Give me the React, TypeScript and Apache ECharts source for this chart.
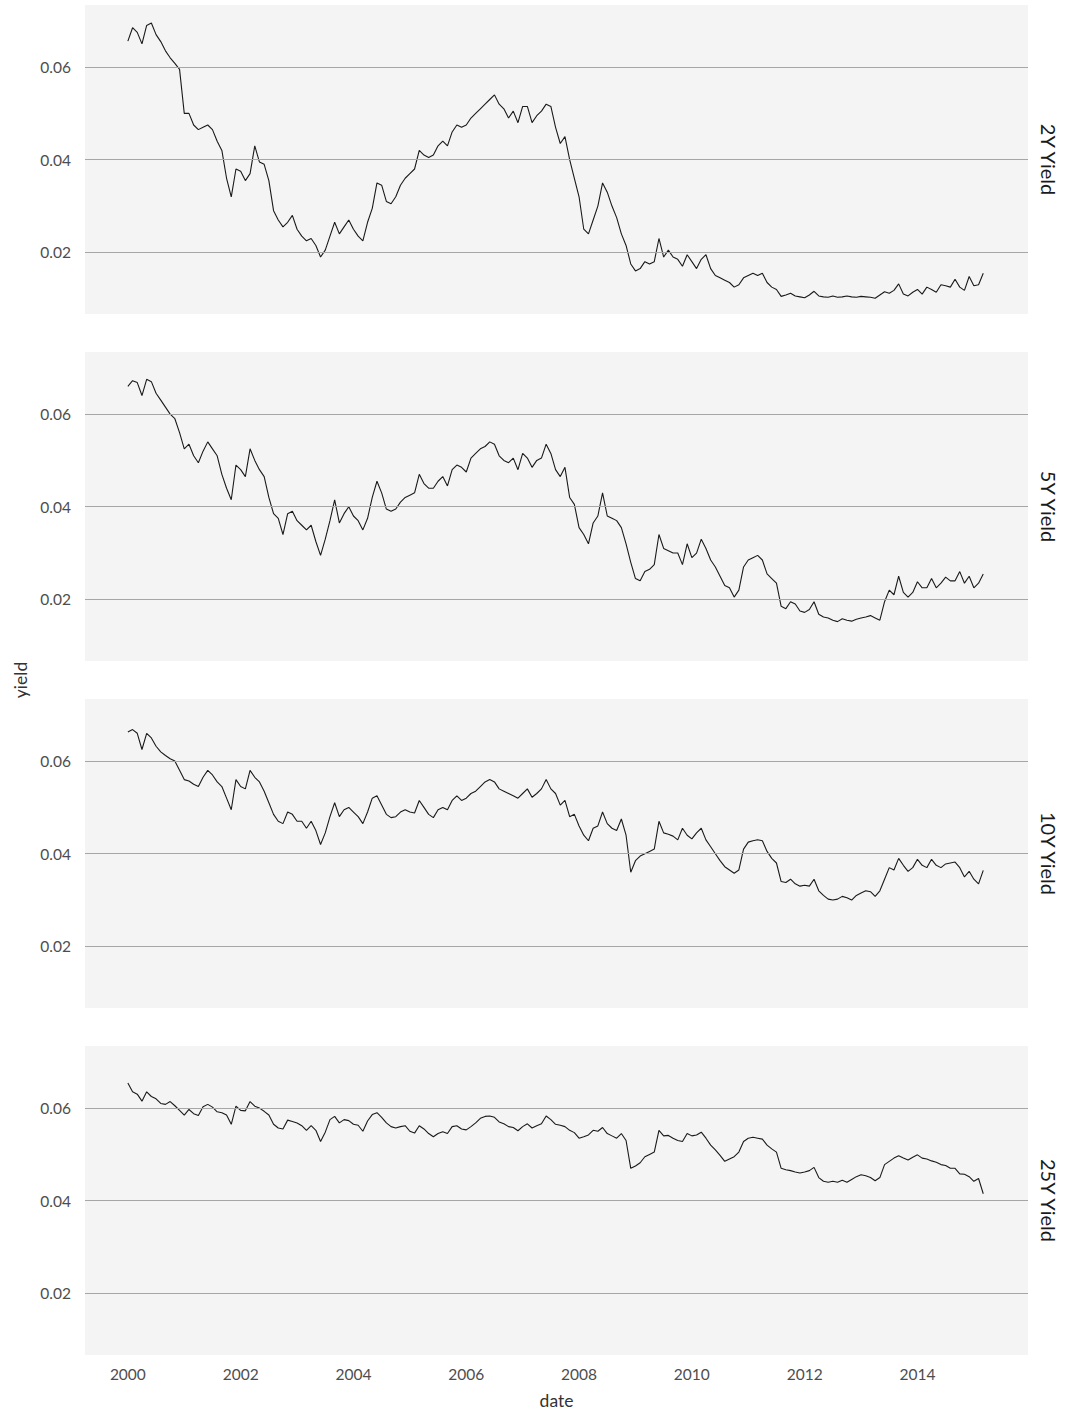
import React, { useEffect, useRef } from "react";
import * as echarts from "echarts";

const startYear = 2000;
const panelLabels = ["2Y Yield", "5Y Yield", "10Y Yield", "25Y Yield"];
const yTicks = [0.02, 0.04, 0.06];
const xTicks = [2000, 2002, 2004, 2006, 2008, 2010, 2012, 2014];

// monthly values, Jan 2000 .. Mar 2015
const y2 = [
  0.0656, 0.0685, 0.0675, 0.065, 0.069, 0.0695, 0.067, 0.0655, 0.0635, 0.062, 0.0608, 0.0595,
  0.05, 0.05, 0.0475, 0.0465, 0.047, 0.0475, 0.0465, 0.044, 0.042, 0.036, 0.032, 0.038,
  0.0375, 0.0355, 0.037, 0.043, 0.0395, 0.039, 0.0355, 0.029, 0.027, 0.0255, 0.0265, 0.028,
  0.025, 0.0235, 0.0225, 0.023, 0.0215, 0.019, 0.0205, 0.0235, 0.0265, 0.024, 0.0255, 0.027,
  0.025, 0.0235, 0.0225, 0.0265, 0.0295, 0.035, 0.0345, 0.031, 0.0305, 0.032, 0.0345, 0.036,
  0.037, 0.038, 0.042, 0.041, 0.0405, 0.041, 0.043, 0.044, 0.043, 0.046, 0.0475, 0.047,
  0.0475, 0.049, 0.05, 0.051, 0.052, 0.053, 0.054, 0.052, 0.051, 0.049, 0.0505, 0.048,
  0.0515, 0.0515, 0.048, 0.0495, 0.0505, 0.052, 0.0515, 0.047, 0.0435, 0.045, 0.04, 0.036,
  0.032, 0.025, 0.024, 0.027, 0.03, 0.035, 0.033, 0.03, 0.0275, 0.024, 0.0215, 0.0175,
  0.016, 0.0165, 0.018, 0.0175, 0.018, 0.023, 0.019, 0.0205, 0.019, 0.0185, 0.017, 0.0195,
  0.018, 0.0165, 0.0185, 0.0195, 0.0165, 0.015, 0.0145, 0.014, 0.0135, 0.0125, 0.013, 0.0145,
  0.015, 0.0155, 0.015, 0.0155, 0.0135, 0.0125, 0.012, 0.0105, 0.0108, 0.0112, 0.0106, 0.0104,
  0.0102, 0.0108, 0.0116, 0.0106, 0.0104, 0.0103, 0.0106, 0.0103, 0.0104, 0.0106, 0.0104, 0.0103,
  0.0105, 0.0104, 0.0103, 0.0101, 0.0108, 0.0115, 0.0112, 0.0118, 0.0132, 0.011, 0.0106, 0.0114,
  0.012, 0.011, 0.0125, 0.012, 0.0114, 0.013, 0.0128, 0.0125, 0.0142, 0.0125, 0.0118, 0.0148,
  0.0128, 0.013, 0.0155,
];

const y5 = [
  0.066, 0.0672, 0.0668, 0.064, 0.0675, 0.067, 0.0645, 0.063, 0.0615, 0.06, 0.059, 0.056,
  0.0525, 0.0535, 0.051, 0.0495, 0.052, 0.054, 0.0525, 0.051, 0.047, 0.044, 0.0415, 0.049,
  0.048, 0.0465, 0.0525, 0.05, 0.048, 0.0465, 0.042, 0.0385, 0.0375, 0.034, 0.0385, 0.039,
  0.037, 0.036, 0.035, 0.036, 0.0325, 0.0295, 0.033, 0.037, 0.0415, 0.0365, 0.0385, 0.04,
  0.038, 0.037, 0.035, 0.0375, 0.042, 0.0455, 0.043, 0.0395, 0.039, 0.0395, 0.041, 0.042,
  0.0425, 0.043, 0.047, 0.045, 0.044, 0.044, 0.0455, 0.0465, 0.0445, 0.048, 0.049, 0.0485,
  0.0475, 0.0505, 0.0515, 0.0525, 0.053, 0.054, 0.0535, 0.051, 0.05, 0.0495, 0.0505, 0.048,
  0.0515, 0.0505, 0.0485, 0.05, 0.0505, 0.0535, 0.0515, 0.048, 0.0465, 0.0485, 0.042, 0.0405,
  0.0355, 0.034, 0.032, 0.0365, 0.038, 0.043, 0.038, 0.0375, 0.037, 0.0355, 0.032, 0.028,
  0.0245, 0.024, 0.026, 0.0265, 0.0275, 0.034, 0.031, 0.0305, 0.03, 0.03, 0.0275, 0.032,
  0.029, 0.03, 0.033, 0.031, 0.0285, 0.027, 0.025, 0.023, 0.0225, 0.0205, 0.022, 0.027,
  0.0285, 0.029, 0.0295, 0.0285, 0.0255, 0.0245, 0.0235, 0.0185, 0.018, 0.0195, 0.019, 0.0175,
  0.0172, 0.0178, 0.0195, 0.0168, 0.0162, 0.016, 0.0155, 0.0152, 0.0158, 0.0155, 0.0153, 0.0157,
  0.016, 0.0162, 0.0165, 0.016, 0.0155, 0.0195, 0.022, 0.021, 0.025, 0.0215, 0.0205, 0.0215,
  0.0238, 0.0225, 0.0225, 0.0245, 0.0225, 0.0235, 0.0248, 0.024, 0.024, 0.026, 0.0235, 0.025,
  0.0225, 0.0235, 0.0255,
];

const y10 = [
  0.0663, 0.0668, 0.066, 0.0625, 0.066, 0.065, 0.0632, 0.062, 0.0612, 0.0605, 0.06, 0.058,
  0.056, 0.0557, 0.055, 0.0545, 0.0565, 0.058, 0.057, 0.0555, 0.0545, 0.052, 0.0495, 0.056,
  0.0545, 0.054, 0.058, 0.0565, 0.0555, 0.0535, 0.051, 0.0485, 0.047, 0.0465, 0.049, 0.0485,
  0.047, 0.047, 0.0455, 0.047, 0.045, 0.042, 0.0445, 0.048, 0.051, 0.048, 0.0495, 0.05,
  0.049, 0.048, 0.0465, 0.049, 0.052, 0.0525, 0.0505, 0.0485, 0.0478, 0.048, 0.049, 0.0495,
  0.049, 0.0488, 0.0515, 0.05, 0.0485, 0.0478, 0.0495, 0.05, 0.0495, 0.0515, 0.0525, 0.0515,
  0.052, 0.053, 0.0535, 0.0545, 0.0555, 0.056, 0.0555, 0.054, 0.0535, 0.053, 0.0525, 0.052,
  0.053, 0.054, 0.0522, 0.053, 0.054, 0.056, 0.054, 0.053, 0.0505, 0.0515, 0.048, 0.0485,
  0.046, 0.044, 0.0428, 0.0455, 0.046, 0.049, 0.0465, 0.0455, 0.045, 0.0475, 0.044, 0.036,
  0.0385, 0.0395, 0.04, 0.0405, 0.041, 0.047, 0.0445, 0.0442, 0.0438, 0.043, 0.0455, 0.044,
  0.0432, 0.0445, 0.0455, 0.043, 0.0415, 0.04, 0.0385, 0.0372, 0.0365, 0.0358, 0.0365, 0.041,
  0.0425, 0.0428, 0.043, 0.0428, 0.0405, 0.039, 0.038, 0.034, 0.0338, 0.0345, 0.0335, 0.033,
  0.0332, 0.033, 0.0345, 0.032, 0.031, 0.0302, 0.03, 0.0302, 0.0308, 0.0305, 0.03, 0.031,
  0.0315, 0.032, 0.0318, 0.0308, 0.032, 0.0345, 0.037, 0.0365, 0.039, 0.0375, 0.0362, 0.037,
  0.0388, 0.0375, 0.037, 0.0388, 0.0375, 0.037, 0.0378, 0.038, 0.0382, 0.037, 0.035, 0.0362,
  0.0345, 0.0335, 0.0364,
];

const y25 = [
  0.0654, 0.0635, 0.063, 0.0615, 0.0635, 0.0625, 0.062, 0.061, 0.0608, 0.0614, 0.0605, 0.0595,
  0.0585, 0.0597, 0.0588, 0.0584, 0.0603, 0.0608, 0.0602, 0.0592, 0.059, 0.0585, 0.0565, 0.0604,
  0.0595, 0.0594, 0.0614, 0.0604, 0.06, 0.0593, 0.0585, 0.0565, 0.0557, 0.0555, 0.0574, 0.0571,
  0.0568, 0.0562, 0.0552, 0.0562, 0.0552, 0.0528, 0.0548, 0.0575, 0.0582, 0.0568, 0.0575, 0.0573,
  0.0565, 0.0563, 0.055, 0.0572, 0.0586, 0.059, 0.058, 0.0568, 0.056, 0.0557, 0.056, 0.0562,
  0.055, 0.0546, 0.0562, 0.0555, 0.0545, 0.0538, 0.0545, 0.0549, 0.0545, 0.056, 0.0562, 0.0555,
  0.0553, 0.056, 0.0568, 0.0578, 0.0582, 0.0583, 0.058, 0.057, 0.0566, 0.056, 0.0558, 0.0551,
  0.056, 0.0566, 0.0557, 0.0562, 0.0566, 0.0583, 0.0575, 0.0565, 0.0563, 0.056, 0.0552, 0.0547,
  0.0535, 0.0538, 0.0542, 0.0552, 0.055, 0.0558, 0.0545, 0.054, 0.0535, 0.0545, 0.053, 0.047,
  0.0475, 0.0482, 0.0495, 0.05, 0.0505, 0.0552, 0.054, 0.0541, 0.0535, 0.053, 0.0528, 0.0545,
  0.054, 0.0542, 0.0548, 0.0535, 0.052, 0.051, 0.0498, 0.0485, 0.049, 0.0495, 0.0505, 0.0528,
  0.0535, 0.0537, 0.0535, 0.0533, 0.052, 0.0512, 0.0505, 0.047, 0.0467, 0.0465, 0.0462, 0.046,
  0.0462, 0.0465, 0.0472, 0.045, 0.0442, 0.044, 0.0442, 0.044, 0.0444, 0.044, 0.0446, 0.0452,
  0.0456, 0.0454, 0.045, 0.0443, 0.045, 0.0478, 0.0485, 0.0492, 0.0497, 0.0492, 0.0488, 0.0494,
  0.0499, 0.0492, 0.049, 0.0486, 0.0483, 0.0478, 0.0476, 0.047, 0.047, 0.0458, 0.0457, 0.0452,
  0.0442, 0.0448, 0.0415,
];

const seriesValues = [y2, y5, y10, y25];

export default function App() {
  const ref = useRef<HTMLDivElement>(null);

  useEffect(() => {
    if (!ref.current) return;
    const chart = echarts.init(ref.current, null, { renderer: "svg" });
    const font = "Lato";
    const top0 = 5;
    const panelH = 309;
    const step = 347;
    const left = 85;
    const right = 41;
    const xMin = 1999.24;
    const xMax = 2015.96;
    const yMin = 0.0067;
    const yMax = 0.0734;

    const grids = seriesValues.map((_, i) => ({
      left,
      right,
      top: top0 + i * step,
      height: panelH,
      show: true,
      backgroundColor: "#f4f4f4",
      borderWidth: 0,
      containLabel: false,
    }));

    const xAxes = seriesValues.map((_, i) => ({
      type: "value",
      gridIndex: i,
      min: xMin,
      max: xMax,
      splitNumber: 8,
      axisLine: { show: false },
      axisTick: { show: false },
      splitLine: { show: false },
      axisLabel: {
        show: i === seriesValues.length - 1,
        customValues: xTicks,
        formatter: (v: number) => String(Math.round(v)),
        color: "#4d4d4d",
        fontFamily: font,
        fontSize: 15.5,
        margin: 11,
      },
      name: i === seriesValues.length - 1 ? "date" : "",
      nameLocation: "middle",
      nameGap: 36,
      nameTextStyle: { fontFamily: font, fontSize: 17.5, color: "#333" },
    }));

    const yAxes = seriesValues.map((_, i) => ({
      type: "value",
      gridIndex: i,
      min: yMin,
      max: yMax,
      splitNumber: 3,
      axisLine: { show: false },
      axisTick: { show: false },
      splitLine: { show: false },
      axisLabel: {
        customValues: yTicks,
        formatter: (v: number) => v.toFixed(2),
        color: "#4d4d4d",
        fontFamily: font,
        fontSize: 15.5,
        margin: 14,
      },
    }));

    const gridSeries = seriesValues.map((_, i) => ({
      type: "line",
      xAxisIndex: i,
      yAxisIndex: i,
      data: [],
      silent: true,
      z: 1,
      markLine: {
        silent: true,
        symbol: "none",
        label: { show: false },
        lineStyle: { color: "#a6a6a6", width: 1, type: "solid" },
        data: yTicks.map((t) => ({ yAxis: t })),
      },
    }));

    const dataSeries = seriesValues.map((vals, i) => ({
      type: "line",
      name: panelLabels[i],
      xAxisIndex: i,
      yAxisIndex: i,
      data: vals.map((v, k) => [startYear + k / 12, v]),
      showSymbol: false,
      symbol: "none",
      z: 3,
      lineStyle: { color: "#1a1a1a", width: 1.1 },
    }));

    const graphics: any[] = panelLabels.map((lab, i) => ({
      type: "text",
      x: 1049,
      y: top0 + i * step + panelH / 2,
      rotation: -Math.PI / 2,
      style: {
        text: lab,
        fontFamily: font,
        fontSize: 20,
        fill: "#1a1a1a",
        textAlign: "center",
        textVerticalAlign: "middle",
      },
    }));
    graphics.push({
      type: "text",
      x: 20,
      y: top0 + (3 * step + panelH) / 2,
      rotation: Math.PI / 2,
      style: {
        text: "yield",
        fontFamily: font,
        fontSize: 17.5,
        fill: "#333",
        textAlign: "center",
        textVerticalAlign: "middle",
      },
    });

    chart.setOption({
      animation: false,
      backgroundColor: "#ffffff",
      grid: grids,
      xAxis: xAxes,
      yAxis: yAxes,
      series: [...gridSeries, ...dataSeries],
      graphic: graphics,
    });

    return () => chart.dispose();
  }, []);

  return (
    <div
      ref={ref}
      style={{ position: "absolute", left: 0, top: 0, width: 1069, height: 1415 }}
    />
  );
}
